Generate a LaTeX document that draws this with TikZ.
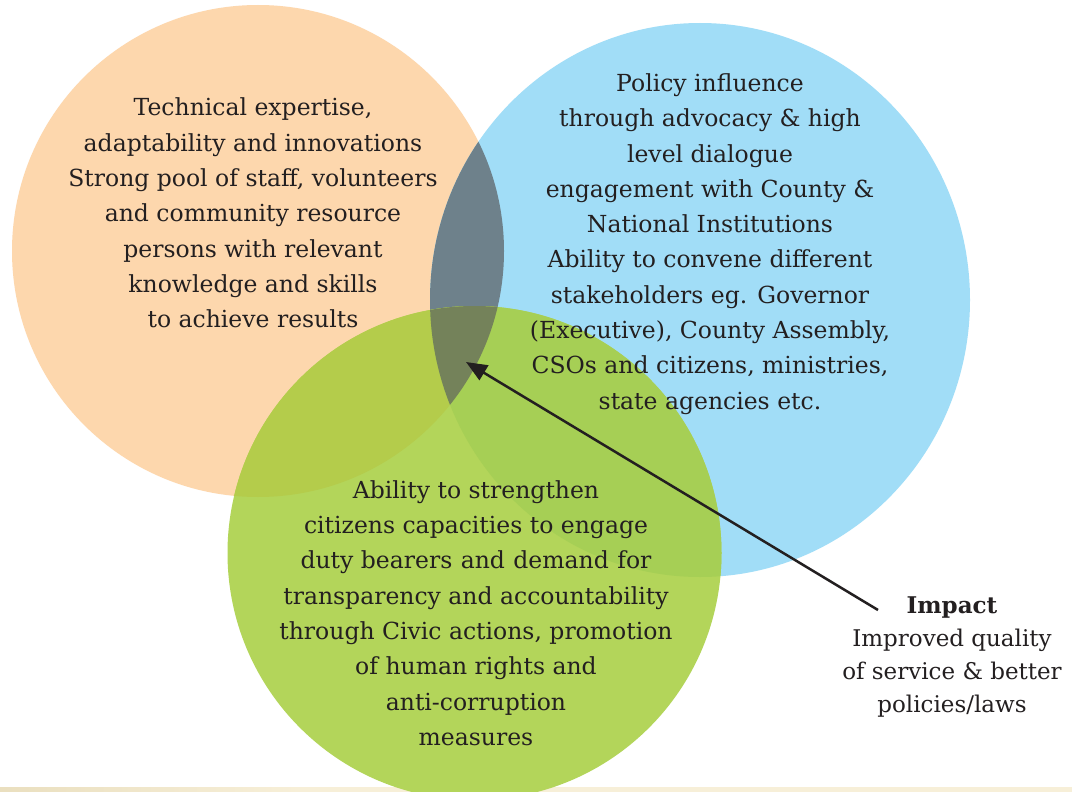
\documentclass[tikz,border=0pt]{standalone}
\usepackage{fontspec}
\setmainfont{DejaVu Serif}
\usetikzlibrary{arrows.meta}
\definecolor{corange}{HTML}{FDD7AD}
\definecolor{cblue}{HTML}{A1DDF7}
\definecolor{cgreen}{HTML}{B3D55A}
\definecolor{cgo}{HTML}{B4CC4B}
\definecolor{cgb}{HTML}{A6CF55}
\definecolor{cslate}{HTML}{6E818B}
\definecolor{ctriple}{HTML}{74825A}
\definecolor{ctext}{HTML}{231F20}
\definecolor{stripA}{HTML}{EADFBF}
\definecolor{stripB}{HTML}{F7EFD8}
\tikzset{
  vtext/.style={align=center, text=ctext, font=\fontsize{23.5}{35.3}\selectfont},
  itext/.style={align=center, text=ctext, font=\fontsize{23}{33}\selectfont},
  impactarrow/.style={draw=ctext, line width=2.5pt, -{Triangle[length=21pt,width=17pt]}}
}
\newcommand{\orangepath}{(258,251) circle[radius=246pt]}
\newcommand{\bluepath}{(700,300) ellipse[x radius=270pt, y radius=277pt]}
\newcommand{\greenpath}{(474.5,553) circle[radius=247pt]}
\begin{document}
\begin{tikzpicture}[x=1pt,y=-1pt]
\useasboundingbox (0,0) rectangle (1072,792);
\fill[white] (0,0) rectangle (1072,792);
% bottom strip
\shade[left color=stripA, right color=stripB] (0,787) rectangle (300,792);
\fill[stripB] (300,787) rectangle (1072,792);
% circles
\fill[corange] \orangepath;
\fill[cblue] \bluepath;
\begin{scope}\clip \orangepath; \fill[cslate] \bluepath; \end{scope}
\fill[cgreen] \greenpath;
\begin{scope}\clip \greenpath; \fill[cgo] \orangepath; \end{scope}
\begin{scope}\clip \greenpath; \fill[cgb] \bluepath; \end{scope}
\begin{scope}\clip \greenpath; \clip \orangepath; \fill[ctriple] \bluepath; \end{scope}
% texts
\node[vtext] (orangetext) at (253,213) {Technical expertise,\\adaptability and innovations\\Strong pool of staff, volunteers\\and community resource\\persons with relevant\\knowledge and skills\\to achieve results};
\node[vtext] (bluetext) at (710,244) {Policy influence\\through advocacy \& high\\level dialogue\\engagement with County \&\\National Institutions\\Ability to convene different\\stakeholders eg. Governor\\(Executive), County Assembly,\\CSOs and citizens, ministries,\\state agencies etc.};
\node[vtext] (greentext) at (476,613) {Ability to strengthen\\citizens capacities to engage\\duty bearers\hspace{1pt} and\hspace{1pt} demand\hspace{1pt} for\\transparency and accountability\\through Civic actions, promotion\\of human rights and\\anti-corruption\\measures};
\node[itext] (impact) at (952,657) {\textbf{Impact}\\Improved quality\\of service \& better\\policies/laws};
% arrow
\coordinate (tail) at (878,610);
\coordinate (tip) at (466,362);
\draw[impactarrow] (tail) -- (tip);
\end{tikzpicture}
\end{document}
